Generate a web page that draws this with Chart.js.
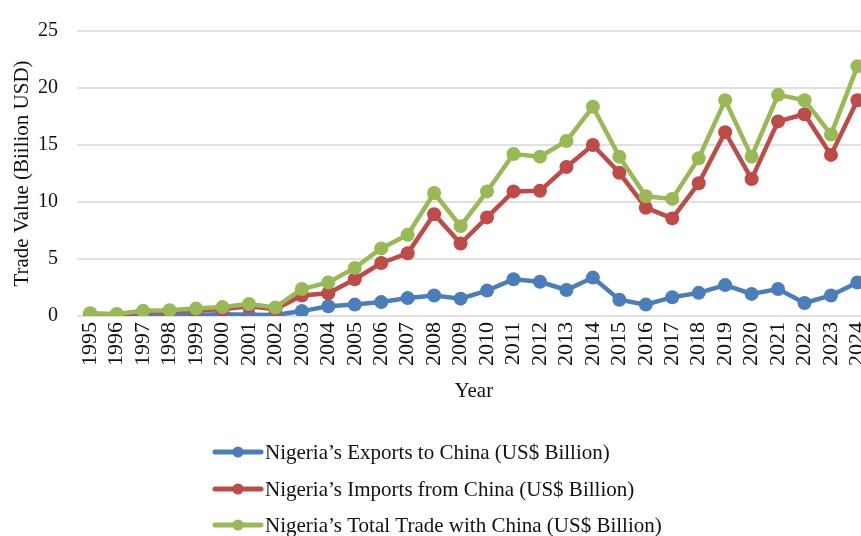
<!DOCTYPE html>
<html>
<head>
<meta charset="utf-8">
<script src="https://cdn.jsdelivr.net/npm/chart.js@4"></script>
<style>
  html, body { margin: 0; padding: 0; background: #fff; overflow: hidden; }
  canvas { display: block; }
</style>
</head>
<body>
<canvas id="trade-chart" width="890" height="536"></canvas>
<script>
const years = ['1995', '1996', '1997', '1998', '1999', '2000', '2001', '2002', '2003', '2004',
  '2005', '2006', '2007', '2008', '2009', '2010', '2011', '2012', '2013', '2014',
  '2015', '2016', '2017', '2018', '2019', '2020', '2021', '2022', '2023', '2024'];
const exportsToChina = [0.05, 0.04, 0.05, 0.05, 0.1, 0.15, 0.1, 0.08, 0.43, 0.86,
  1.0, 1.22, 1.57, 1.8, 1.52, 2.23, 3.23, 3.0, 2.28, 3.37,
  1.43, 1.0, 1.65, 2.03, 2.71, 1.94, 2.37, 1.14, 1.8, 2.94];
const importsFromChina = [0.15, 0.12, 0.35, 0.4, 0.5, 0.6, 0.85, 0.6, 1.8, 2.0,
  3.23, 4.65, 5.5, 8.93, 6.36, 8.65, 10.93, 10.98, 13.07, 15.0,
  12.56, 9.5, 8.56, 11.64, 16.12, 12.01, 17.07, 17.7, 14.13, 18.92];
const totalTrade = [0.25, 0.17, 0.45, 0.5, 0.65, 0.78, 1.05, 0.75, 2.37, 2.94,
  4.22, 5.93, 7.13, 10.79, 7.88, 10.93, 14.21, 13.98, 15.35, 18.35,
  13.98, 10.5, 10.27, 13.84, 18.92, 13.98, 19.4, 18.92, 15.92, 21.9];
const yTicks = [0, 5, 10, 15, 20, 25];

const serif = "'Liberation Serif', 'Times New Roman', serif";

function series(label, values, color, order) {
  return {
    label: label,
    data: values,
    borderColor: color,
    backgroundColor: color,
    borderWidth: 4.5,
    pointRadius: 7,
    pointHoverRadius: 7,
    pointBorderWidth: 0,
    tension: 0,
    order: order
  };
}

// legend stacked one per row under the axis, like the original
const stackedLegend = {
  id: 'stackedLegend',
  afterDraw(chart) {
    const ctx = chart.ctx;
    const rows = [452, 489, 525];
    ctx.save();
    chart.data.datasets.forEach((ds, i) => {
      const y = rows[i];
      ctx.strokeStyle = ds.borderColor;
      ctx.lineWidth = 5;
      ctx.lineCap = 'round';
      ctx.beginPath();
      ctx.moveTo(215, y);
      ctx.lineTo(261, y);
      ctx.stroke();
      ctx.fillStyle = ds.borderColor;
      ctx.beginPath();
      ctx.arc(238, y, 5.5, 0, Math.PI * 2);
      ctx.fill();
      ctx.fillStyle = '#111';
      ctx.font = '21px ' + serif;
      ctx.textAlign = 'left';
      ctx.textBaseline = 'middle';
      ctx.fillText(ds.label, 265, y + 1);
    });
    ctx.restore();
  }
};

new Chart(document.getElementById('trade-chart'), {
  type: 'line',
  data: {
    labels: years,
    datasets: [
      series('Nigeria’s Exports to China (US$ Billion)', exportsToChina, '#4a7ebb', 3),
      series('Nigeria’s Imports from China (US$ Billion)', importsFromChina, '#be4b48', 2),
      series('Nigeria’s Total Trade with China (US$ Billion)', totalTrade, '#98b954', 1)
    ]
  },
  options: {
    responsive: false,
    animation: false,
    layout: { padding: { left: 0, top: 24, right: 10, bottom: 130 } },
    plugins: {
      legend: { display: false },
      tooltip: { enabled: false }
    },
    scales: {
      x: {
        offset: true,
        afterFit: (s) => { s.height = 90; },
        grid: { display: false, drawTicks: false },
        border: { display: false },
        ticks: {
          autoSkip: false,
          maxRotation: 90,
          minRotation: 90,
          padding: 6,
          color: '#111',
          font: { family: serif, size: 22 }
        },
        title: {
          display: true,
          text: 'Year',
          color: '#111',
          padding: { top: 0, bottom: 2 },
          font: { family: serif, size: 21 }
        }
      },
      y: {
        min: 0,
        max: 25,
        afterFit: (s) => { s.width = 77; },
        afterBuildTicks: (s) => { s.ticks = yTicks.map(v => ({ value: v })); },
        grid: { color: '#e0e0e0', lineWidth: 2, drawTicks: false },
        border: { display: false },
        ticks: {
          padding: 19,
          color: '#111',
          font: { family: serif, size: 20 }
        },
        title: {
          display: true,
          text: 'Trade Value (Biilion USD)',
          color: '#111',
          padding: { top: 9.5, bottom: 0 },
          font: { family: serif, size: 21 }
        }
      }
    }
  },
  plugins: [stackedLegend]
});
</script>
</body>
</html>
